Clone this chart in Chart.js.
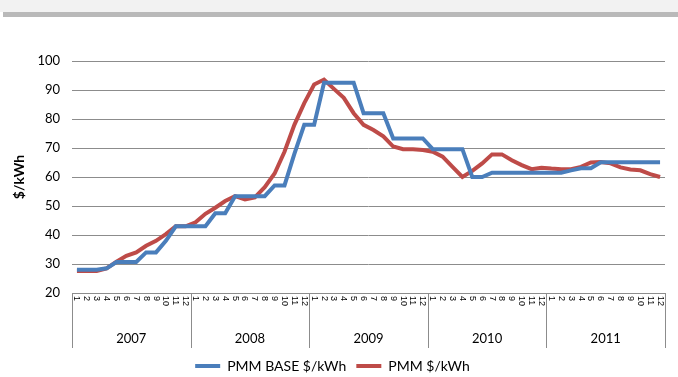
<!DOCTYPE html>
<html lang="en">
<head>
    <meta charset="UTF-8">
    <title>PMM $/kWh</title>
    <script src="https://cdn.jsdelivr.net/npm/chart.js"></script>
    <style>
        body {
            margin: 0;
            padding: 0;
            background: #ffffff;
        }

        /* grey bands along the top */
        .band-light {
            position: absolute;
            left: 0; top: 0;
            width: 678px; height: 12px;
            background: #f2f2f2;
        }
        .band-dark {
            position: absolute;
            left: 3px; top: 12px;
            width: 675px; height: 5px;
            background: #b9b9b9;
        }

        .wrap {
            position: absolute;
            left: 0; top: 0;
            width: 678px; height: 377px;
        }
    </style>
</head>
<body>
    <div class="band-light"></div>
    <div class="band-dark"></div>
    <div class="wrap"><canvas id="pmmChart"></canvas></div>

    <script>
        const years = ["2007", "2008", "2009", "2010", "2011"];
        const monthTicks = ["1","2","3","4","5","6","7","8","9","10","11","12"];

        // one label per month, 2007-01 .. 2011-12
        const months = [];
        years.forEach(() => monthTicks.forEach(m => months.push(m)));

        const pmmBase = [
            28, 28, 28, 28.5, 30.7, 30.7, 30.7, 34, 34, 38, 43, 43,
            43, 43, 47.5, 47.5, 53.4, 53.4, 53.4, 53.4, 57.1, 57.1, 68, 78,
            78, 92.5, 92.5, 92.5, 92.5, 82, 82, 82, 73.3, 73.3, 73.3, 73.3,
            69.6, 69.6, 69.6, 69.6, 60, 60, 61.5, 61.5, 61.5, 61.5, 61.5, 61.5,
            61.5, 61.5, 62.3, 63, 63, 65.1, 65.1, 65.1, 65.1, 65.1, 65.1, 65.1
        ];

        const pmm = [
            27.6, 27.6, 27.6, 28.5, 30.8, 32.8, 34, 36.3, 38, 40.3, 43, 43,
            44.4, 47.3, 49.4, 51.7, 53.4, 52.3, 53, 56.5, 61.2, 68.7, 78, 85.5,
            91.9, 93.6, 90.4, 87.3, 82, 78, 76.2, 74, 70.5, 69.6, 69.6, 69.3,
            68.7, 67, 63.5, 60, 62.1, 64.7, 67.8, 67.8, 65.8, 64.1, 62.7, 63.2,
            62.9, 62.7, 62.7, 63.5, 65, 65.2, 64.7, 63.3, 62.6, 62.3, 61, 60
        ];

        const gridGrey = "#8c8c8c";

        // month numbers turned clockwise + vertical separators between the years
        const monthAxis = {
            id: "monthAxis",
            afterDraw(chart) {
                const x = chart.scales.x;
                const ctx = chart.ctx;
                ctx.save();

                ctx.fillStyle = "#000";
                ctx.font = "9px 'Liberation Sans'";
                ctx.textAlign = "left";
                ctx.textBaseline = "middle";
                x.ticks.forEach((t, i) => {
                    ctx.save();
                    ctx.translate(x.getPixelForTick(i), x.top + 3);
                    ctx.rotate(Math.PI / 2);
                    ctx.fillText(months[i], 0, 0);
                    ctx.restore();
                });

                ctx.strokeStyle = gridGrey;
                ctx.lineWidth = 1;
                for (let k = 0; k <= years.length; k++) {
                    const px = Math.round(x.left + x.width * k / years.length) + 0.5;
                    ctx.beginPath();
                    ctx.moveTo(px, x.top);
                    ctx.lineTo(px, x.top + 55);
                    ctx.stroke();
                }
                ctx.restore();
            }
        };

        const ctx = document.getElementById("pmmChart").getContext("2d");
        new Chart(ctx, {
            type: "line",
            data: {
                labels: months,
                datasets: [
                    {
                        label: "PMM BASE $/kWh",
                        data: pmmBase,
                        borderColor: "#4a7ebb",
                        backgroundColor: "#4a7ebb",
                        borderWidth: 4,
                        pointRadius: 0,
                        tension: 0,
                        fill: false
                    },
                    {
                        label: "PMM $/kWh",
                        data: pmm,
                        borderColor: "#be4b48",
                        backgroundColor: "#be4b48",
                        borderWidth: 4,
                        pointRadius: 0,
                        tension: 0,
                        fill: false
                    }
                ]
            },
            options: {
                responsive: true,
                maintainAspectRatio: false,
                animation: false,
                layout: {
                    padding: { top: 61, right: 13, left: 0, bottom: -6 }
                },
                plugins: {
                    tooltip: { enabled: false },
                    legend: {
                        position: "bottom",
                        labels: {
                            usePointStyle: true,
                            pointStyle: "line",
                            pointStyleWidth: 25,
                            padding: 10,
                            color: "#000",
                            font: { family: "Lato", size: 14 }
                        }
                    }
                },
                scales: {
                    y: {
                        min: 20,
                        max: 100,
                        ticks: {
                            stepSize: 10,
                            padding: 12,
                            color: "#000",
                            font: { family: "Lato", size: 13 }
                        },
                        grid: { color: gridGrey, drawTicks: false },
                        border: { display: false },
                        title: {
                            display: true,
                            text: "$/kWh",
                            color: "#000",
                            font: { family: "Lato", size: 14, weight: "bold" },
                            padding: { top: 11, bottom: 0 }
                        },
                        afterFit(scale) { scale.width = 72; }
                    },
                    x: {
                        offset: true,
                        grid: { display: false },
                        border: { display: true, color: gridGrey },
                        ticks: { display: true, autoSkip: false, maxRotation: 0, color: "rgba(0,0,0,0)", font: { size: 1 } },
                        afterFit(scale) { scale.height = 26; }
                    },
                    x2: {
                        type: "category",
                        position: "bottom",
                        labels: years,
                        offset: true,
                        grid: { display: false, drawTicks: false },
                        border: { display: false },
                        ticks: {
                            padding: 12,
                            color: "#000",
                            font: { family: "Lato", size: 13 }
                        },
                        afterFit(scale) { scale.height = 30; }
                    }
                }
            },
            plugins: [monthAxis]
        });
    </script>
</body>
</html>
